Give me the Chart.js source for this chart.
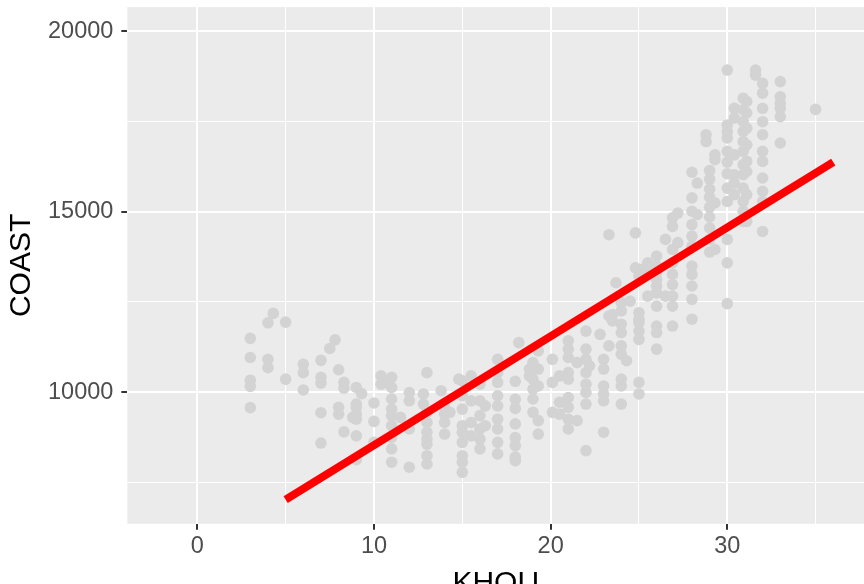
<!DOCTYPE html>
<html>
<head>
<meta charset="utf-8">
<script src="https://cdn.jsdelivr.net/npm/chart.js@4"></script>
<style>
  html, body { margin: 0; padding: 0; overflow: hidden; background: #fff; }
  canvas { display: block; margin-top: -15px; }
</style>
</head>
<body>
<canvas id="scatter" width="870" height="617"></canvas>
<script>
// KHOU temperature columns and the COAST load readings seen at each
const khouColumns = [3, 4, 4.3, 5, 6, 7, 7.5, 7.8, 8, 8.3, 8.8, 9, 9.3, 10, 10.4, 10.6, 11, 11.5, 12, 12.8, 13, 13.8, 14, 14.3, 14.8, 15, 15.5, 16, 16.3, 17, 18, 18.2, 18.8, 19, 19.3, 20.1, 20.5, 21, 21.5, 22, 22.2, 22.8, 23, 23.3, 23.5, 23.7, 24, 24.3, 24.5, 24.8, 25, 25.2, 25.5, 26, 26.5, 26.9, 27.2, 28, 28.3, 28.8, 29, 29.3, 30, 30.4, 30.9, 31.1, 31.6, 32, 33, 35];
const coastColumns = [
  [11490, 10960, 10330, 10160, 9570],
  [11920, 10910, 10680],
  [12180],
  [11940, 10360],
  [10770, 10540, 10060],
  [10880, 10410, 10250, 9430, 8590],
  [11210],
  [11450],
  [10620, 9580, 9390],
  [10270, 10110, 8900],
  [9300],
  [10130, 9670, 9580, 9390, 9250, 8790, 8130],
  [9960],
  [9700, 9190, 8610],
  [10450, 10220],
  [10270],
  [10410, 10130, 9810, 9530, 9350, 9070, 8750, 8430, 8060],
  [9300],
  [9990, 9760, 8980, 7920],
  [9950, 9670],
  [10540, 9440, 9160, 8890, 8700, 8560, 8240, 8010],
  [10040],
  [9580, 9390, 9160, 8840],
  [9440],
  [10360],
  [10310, 9900, 9530, 9070, 8890, 8610, 8240, 8060, 7780],
  [10450, 9760, 9160, 8790],
  [10220, 9760, 9350, 8980, 8700, 8430],
  [9620, 9070],
  [10910, 10540, 10270, 9900, 9620, 9250, 8980, 8610, 8290],
  [10300, 9800, 9550, 9120, 8740, 8520, 8200, 8100],
  [11370],
  [10640, 10450],
  [10820, 10360, 10080, 9810, 9440],
  [11140, 10640, 10170, 9210, 8840],
  [10910, 10270, 9440],
  [10450, 9720, 9390],
  [11420, 11190, 10960, 10540, 10360, 9850, 9580, 9250, 8980],
  [10820, 9210],
  [11690, 11190, 10910, 10540, 10220, 9990, 9670, 8380],
  [10730],
  [11600],
  [10910, 10640, 10170, 9950, 9760, 8890],
  [14360, 12110, 11280],
  [12150, 11970],
  [13030],
  [12480, 12250, 11880, 11650, 11280, 11050, 10360, 10170, 9670],
  [10870],
  [12520],
  [14410, 13440],
  [13210, 12200, 12020, 11930, 11690, 11460, 10270, 9950],
  [13400, 13170],
  [13580, 13400, 12660],
  [13770, 13490, 13310, 13120, 12940, 12750, 12380, 11830, 11650, 11190],
  [14230, 12660],
  [14830, 14590, 13950, 13580, 13260, 12980, 12660, 12380, 11830],
  [14960, 14140],
  [16090, 15380, 15010, 14640, 14320, 14040, 13490, 13260, 12940, 12570, 12020],
  [15790, 14920],
  [17130, 16940],
  [16140, 15900, 15620, 15400, 15120, 14850, 14550, 14230, 13880],
  [16570, 16440, 15240, 13950],
  [18920, 17400, 17220, 17040, 16670, 16370, 16050, 15650, 15280, 14230, 13580, 12450],
  [17860, 17590, 16570, 16020, 15790, 15470],
  [18140, 17820, 17490, 17220, 16940, 16670, 16300, 16020, 15650, 15280, 15010, 14730],
  [18050, 17730, 17310, 16850, 16390, 16110, 15470, 14730],
  [18920, 18780],
  [18550, 18280, 17860, 17490, 17130, 16670, 16390, 15930, 15560, 15280, 14450],
  [18600, 18180, 18000, 17860, 17630, 16900],
  [17830]
];

// straight fit line end points
const fitKhou = [5, 36];
const fitCoast = [7025, 16372];

const xTicks = [0, 5, 10, 15, 20, 25, 30, 35];
const yTicks = [7500, 10000, 12500, 15000, 17500, 20000];
const xLabelled = [0, 10, 20, 30];
const yLabelled = [10000, 15000, 20000];

const points = khouColumns.flatMap((k, i) => coastColumns[i].map(c => ({x: k, y: c})));
const fitLine = fitKhou.map((k, i) => ({x: k, y: fitCoast[i]}));

Chart.defaults.font.family = "'Liberation Sans', Arial, sans-serif";

// grey ggplot-like panel behind the grid
const panelBackground = {
  id: 'panelBackground',
  beforeDraw(chart) {
    const {ctx, chartArea} = chart;
    ctx.save();
    ctx.fillStyle = '#EBEBEB';
    ctx.fillRect(chartArea.left, chartArea.top, chartArea.right - chartArea.left, chartArea.bottom - chartArea.top);
    ctx.restore();
  }
};

function isMajor(list) {
  return ctx => ctx.tick && list.includes(ctx.tick.value);
}
const xMajor = isMajor(xLabelled);
const yMajor = isMajor(yLabelled);

new Chart(document.getElementById('scatter'), {
  type: 'scatter',
  data: {
    datasets: [
      {
        type: 'line',
        data: fitLine,
        borderColor: '#FF0000',
        borderWidth: 8,
        borderCapStyle: 'butt',
        pointRadius: 0,
        fill: false
      },
      {
        data: points,
        backgroundColor: '#D3D3D3',
        borderWidth: 0,
        pointRadius: 5.8,
        pointHoverRadius: 5.8
      }
    ]
  },
  options: {
    responsive: false,
    animation: false,
    layout: { padding: { top: 7, left: 0, right: 0, bottom: 0 } },
    plugins: {
      legend: { display: false },
      tooltip: { enabled: false }
    },
    scales: {
      x: {
        type: 'linear',
        min: -3.96,
        max: 37.75,
        afterBuildTicks: scale => { scale.ticks = xTicks.map(v => ({value: v})); },
        border: { display: false },
        grid: {
          color: '#FFFFFF',
          lineWidth: ctx => xMajor(ctx) ? 2 : 1,
          tickColor: ctx => xMajor(ctx) ? '#333333' : 'rgba(0,0,0,0)',
          tickLength: 6,
          tickWidth: 2
        },
        ticks: {
          padding: 3,
          color: '#4D4D4D',
          font: { size: 23.5 },
          maxRotation: 0,
          callback: v => xLabelled.includes(v) ? String(v) : ''
        },
        title: {
          display: true,
          text: 'KHOU',
          color: '#000000',
          font: { size: 30 },
          padding: { top: 2, bottom: 0 }
        }
      },
      y: {
        type: 'linear',
        min: 6354,
        max: 20663,
        afterBuildTicks: scale => { scale.ticks = yTicks.map(v => ({value: v})); },
        border: { display: false },
        grid: {
          color: '#FFFFFF',
          lineWidth: ctx => yMajor(ctx) ? 2 : 1,
          tickColor: ctx => yMajor(ctx) ? '#333333' : 'rgba(0,0,0,0)',
          tickLength: 6,
          tickWidth: 2
        },
        ticks: {
          padding: 8,
          color: '#4D4D4D',
          font: { size: 23.5 },
          callback: v => yLabelled.includes(v) ? String(v) : ''
        },
        title: {
          display: true,
          text: 'COAST',
          color: '#000000',
          font: { size: 30 },
          padding: { top: 4, bottom: 0 }
        }
      }
    }
  },
  plugins: [panelBackground]
});
</script>
</body>
</html>
